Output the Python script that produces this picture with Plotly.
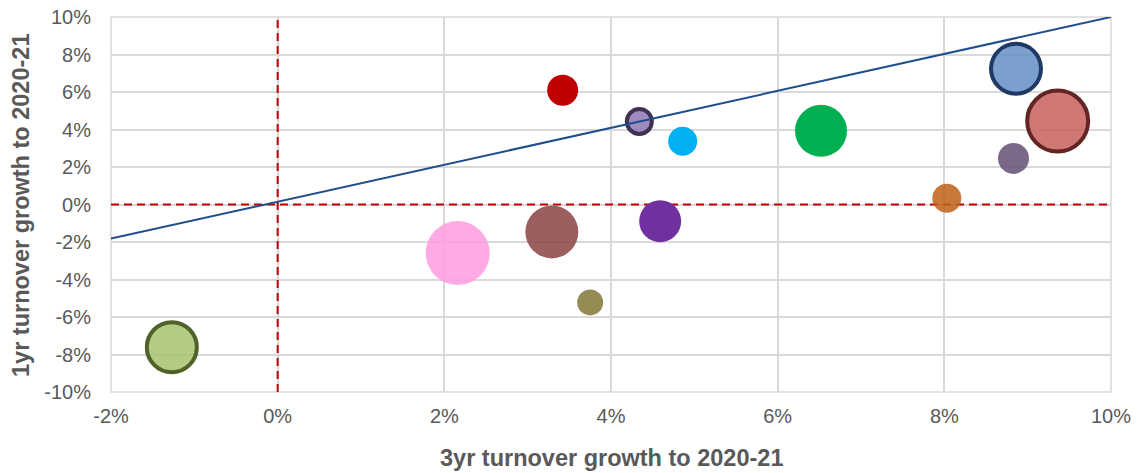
import plotly.graph_objects as go

# Data (percent units)
x_3yr = [-1.27, 2.16, 3.29, 3.75, 3.42, 4.34, 4.86, 4.59, 6.52, 8.03, 8.83, 8.86, 9.36]
y_1yr = [-7.61, -2.59, -1.46, -5.22, 6.09, 4.43, 3.37, -0.89, 3.93, 0.34, 2.46, 7.24, 4.45]
bubble_size = [50, 64, 53, 26, 31, 25, 29, 42, 52, 29, 31, 50, 61]
fill_colors = [
    "rgba(166,194,111,0.85)", "rgba(255,154,225,0.85)", "rgba(137,67,67,0.85)",
    "rgba(129,117,54,0.85)", "rgb(192,0,0)", "rgba(143,119,181,0.85)",
    "rgb(0,176,240)", "rgb(112,48,160)", "rgb(0,176,80)",
    "rgba(190,98,23,0.85)", "rgba(99,80,115,0.85)", "rgba(100,143,196,0.85)",
    "rgba(200,96,94,0.85)",
]
line_colors = [
    "#4F6228", "rgba(0,0,0,0)", "rgba(0,0,0,0)", "rgba(0,0,0,0)", "rgba(0,0,0,0)",
    "#3F3151", "rgba(0,0,0,0)", "rgba(0,0,0,0)", "rgba(0,0,0,0)", "rgba(0,0,0,0)",
    "rgba(0,0,0,0)", "#1F3864", "#632523",
]
line_widths = [4, 0, 0, 0, 0, 4, 0, 0, 0, 0, 0, 4, 4]

trend_x = [-2, 10]
trend_y = [-1.82, 10]

zero_vline_x = [0, 0]
zero_vline_y = [-10, 10]
zero_hline_x = [-2, 10]
zero_hline_y = [0, 0]

x_ticks = [-2, 0, 2, 4, 6, 8, 10]
x_tick_labels = ["-2%", "0%", "2%", "4%", "6%", "8%", "10%"]
y_ticks = [-10, -8, -6, -4, -2, 0, 2, 4, 6, 8, 10]
y_tick_labels = ["-10%", "-8%", "-6%", "-4%", "-2%", "0%", "2%", "4%", "6%", "8%", "10%"]

x_title = "3yr turnover growth to 2020-21"
y_title = "1yr turnover growth to 2020-21"

fig = go.Figure()

dash_line = dict(color="#C00000", width=2, dash="8px,5px")
fig.add_trace(go.Scatter(x=zero_vline_x, y=zero_vline_y, mode="lines",
                         line=dash_line, showlegend=False, hoverinfo="skip"))
fig.add_trace(go.Scatter(x=zero_hline_x, y=zero_hline_y, mode="lines",
                         line=dash_line, showlegend=False, hoverinfo="skip"))

fig.add_trace(go.Scatter(
    x=x_3yr, y=y_1yr, mode="markers",
    marker=dict(size=bubble_size, sizemode="diameter", color=fill_colors, opacity=1,
                line=dict(color=line_colors, width=line_widths)),
    hoverinfo="x+y", showlegend=False,
))

fig.add_trace(go.Scatter(
    x=trend_x, y=trend_y, mode="lines",
    line=dict(color="#1F4E8C", width=2), showlegend=False, hoverinfo="skip",
))

# light frame around the plot area (grid at the range ends)
fig.add_shape(type="rect", xref="paper", yref="paper", x0=0, x1=1, y0=0, y1=1,
              line=dict(color="#D9D9D9", width=1.5), layer="below")

font_family = "Liberation Sans, Arial, sans-serif"
# page body has an 8px default margin, so the figure is sized to fit the window
fig.update_layout(
    width=1134, height=465,
    margin=dict(l=103, r=31, t=9, b=81),
    paper_bgcolor="white", plot_bgcolor="white",
    font=dict(family=font_family, color="#595959"),
    xaxis=dict(
        range=[-2, 10], tickmode="array", tickvals=x_ticks, ticktext=x_tick_labels,
        showgrid=True, gridcolor="#D9D9D9", gridwidth=1.5,
        zeroline=False, showline=False, automargin=False,
        tickfont=dict(size=20, color="#595959"),
        ticklabelstandoff=10, ticklabeloverflow="allow",
    ),
    yaxis=dict(
        range=[-10, 10], tickmode="array", tickvals=y_ticks, ticktext=y_tick_labels,
        showgrid=True, gridcolor="#D9D9D9", gridwidth=1.5,
        zeroline=False, showline=False, automargin=False,
        tickfont=dict(size=20, color="#595959"),
        ticklabelstandoff=19, ticklabeloverflow="allow",
    ),
    annotations=[
        dict(text="<b>" + x_title + "</b>", xref="paper", yref="paper",
             x=0.5, y=-0.176, xanchor="center", yanchor="middle", showarrow=False,
             font=dict(size=23.5, color="#595959")),
        dict(text="<b>" + y_title + "</b>", xref="paper", yref="paper",
             x=-0.09, y=0.496, xanchor="center", yanchor="middle", showarrow=False,
             textangle=-90, font=dict(size=23.5, color="#595959")),
    ],
)

fig.write_html("out.html")
